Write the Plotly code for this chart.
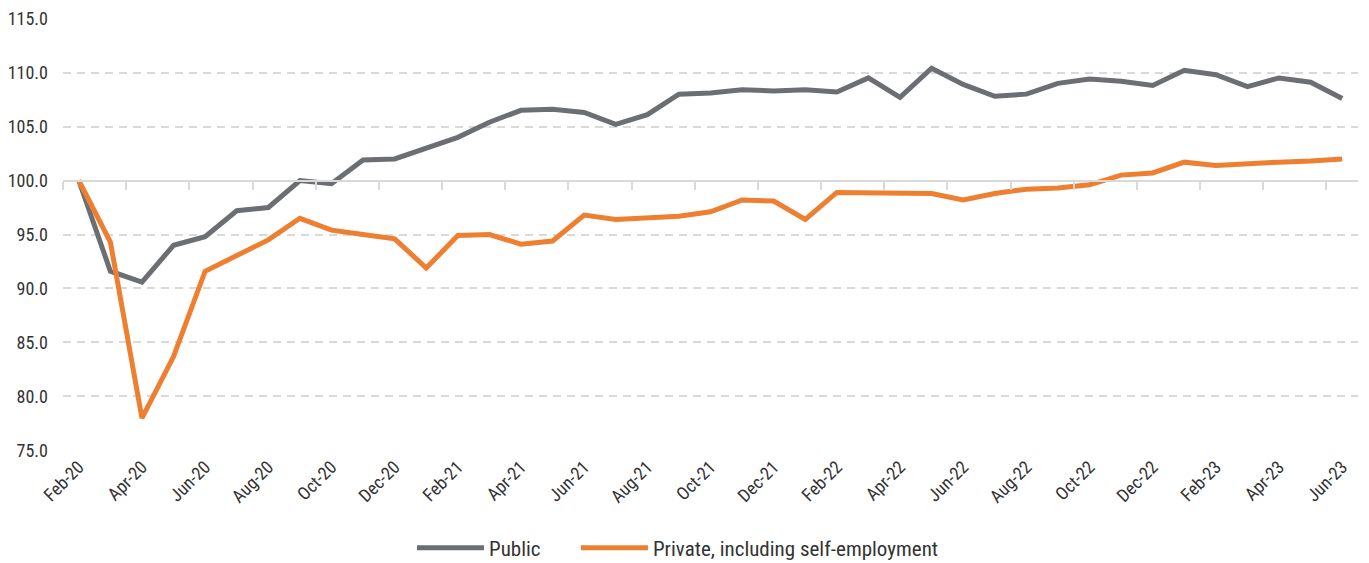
import plotly.graph_objects as go

months = ["Feb-20","Mar-20","Apr-20","May-20","Jun-20","Jul-20","Aug-20","Sep-20","Oct-20","Nov-20","Dec-20",
          "Jan-21","Feb-21","Mar-21","Apr-21","May-21","Jun-21","Jul-21","Aug-21","Sep-21","Oct-21","Nov-21","Dec-21",
          "Jan-22","Feb-22","Mar-22","Apr-22","May-22","Jun-22","Jul-22","Aug-22","Sep-22","Oct-22","Nov-22","Dec-22",
          "Jan-23","Feb-23","Mar-23","Apr-23","May-23","Jun-23"]

public = [100.0, 91.6, 90.6, 94.0, 94.8, 97.2, 97.5, 100.0, 99.7, 101.9, 102.0,
          103.0, 104.0, 105.4, 106.5, 106.6, 106.3, 105.2, 106.1, 108.0, 108.1, 108.4, 108.3,
          108.4, 108.2, 109.5, 107.7, 110.4, 108.9, 107.8, 108.0, 109.0, 109.4, 109.2, 108.8,
          110.2, 109.8, 108.7, 109.5, 109.1, 107.6]

private = [100.0, 94.3, 78.0, 83.7, 91.6, 93.1, 94.5, 96.5, 95.4, 95.0, 94.6,
           91.9, 94.9, 95.0, 94.1, 94.4, 96.8, 96.4, 96.5, 96.7, 97.1, 98.2, 98.1,
           96.4, 98.9, 98.9, 98.9, 98.8, 98.2, 98.8, 99.2, 99.3, 99.6, 100.5, 100.7,
           101.7, 101.4, 101.6, 101.7, 101.8, 102.0]

y_ticks = [75, 80, 85, 90, 95, 100, 105, 110, 115]
y_min, y_max = 74.95, 115.05
baseline = 100

GRAY = "#6b6e72"
ORANGE = "#ef7f30"
GRID = "#d9d9d9"
TEXT = "#333333"
FONT = "Roboto Condensed, Liberation Sans Narrow, DejaVu Sans Condensed, Roboto, sans-serif"

fig = go.Figure()
fig.add_trace(go.Scatter(x=months, y=public, name="Public", mode="lines",
                         line=dict(color=GRAY, width=5), legend="legend"))
fig.add_trace(go.Scatter(x=months, y=private, name="Private, including self-employment", mode="lines",
                         line=dict(color=ORANGE, width=5), legend="legend2"))

legend_common = dict(orientation="h", xanchor="left", y=-0.224, yanchor="middle",
                     font=dict(size=21, color=TEXT), itemwidth=67, bgcolor="rgba(0,0,0,0)")

fig.update_layout(
    width=1369, height=563,
    margin=dict(l=63, r=11, t=18, b=112, autoexpand=False),
    paper_bgcolor="white", plot_bgcolor="white",
    font=dict(family=FONT, size=18, color=TEXT),
    showlegend=True,
    legend=dict(x=0.2695, **legend_common),
    legend2=dict(x=0.3961, **legend_common),
    xaxis=dict(
        type="category", range=[-0.5, len(months) - 0.5],
        tickson="boundaries", dtick=2, tick0=0,
        ticks="outside", ticklen=8, tickwidth=2, tickcolor=GRID,
        showline=True, linecolor=GRID, linewidth=2,
        anchor="free", position=(baseline - y_min) / (y_max - y_min),
        tickangle=-45, ticklabelstandoff=268,
        showgrid=False, zeroline=False, automargin=False,
        tickfont=dict(size=18, color=TEXT),
    ),
    yaxis=dict(
        range=[y_min, y_max], tickvals=y_ticks, tickformat=".1f",
        showgrid=True, gridcolor=GRID, gridwidth=2, griddash="8px,6px",
        zeroline=False, showline=False, ticks="", ticklabelstandoff=14,
        automargin=False, tickfont=dict(size=18, color=TEXT),
    ),
)

fig.write_html("out.html", config={"displayModeBar": False},
               post_script="document.body.style.margin='0';document.body.style.overflow='hidden';")
